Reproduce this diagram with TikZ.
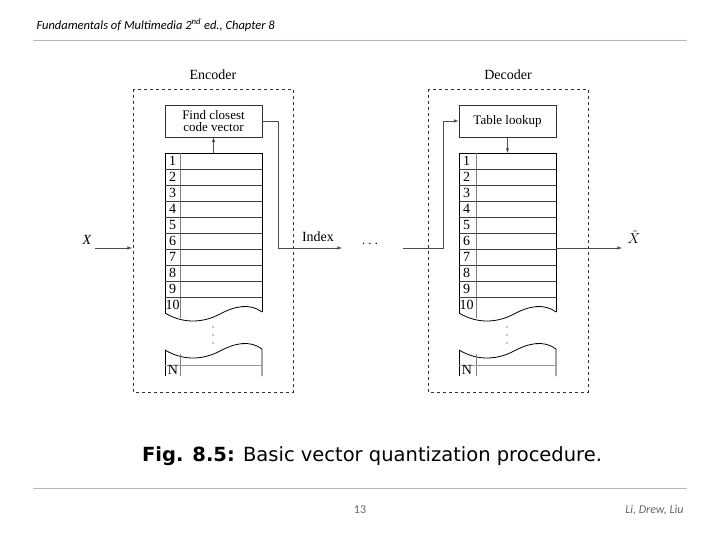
\documentclass[tikz,border=0pt]{standalone}
\usepackage{fontspec}
\setmainfont{Liberation Serif}
\newfontfamily\carlf{Carlito}
\newfontfamily\capf{DejaVu Sans}
\begin{document}
\begin{tikzpicture}[x=1pt,y=-1pt,
  dbox/.style={draw=black!80,dashed,line width=0.7pt},
  pbox/.style={draw=black!80,line width=0.8pt,inner sep=0pt,align=center,font=\fontsize{13}{11.5}\selectfont},
  conn/.style={draw=black!70,line width=0.6pt},
  arr/.style={conn,-latex},
  lab/.style={font=\fontsize{14}{14}\selectfont},
  dot/.style={circle,fill=black,inner sep=0pt,minimum size=1.3pt}]
\useasboundingbox (0,0) rectangle (720,540);
\node[anchor=west,font=\carlf\itshape\fontsize{12.5}{12}\selectfont] (hdr) at (33,25) {Fundamentals of Multimedia 2\textsuperscript{nd} ed., Chapter 8};
\draw[draw=black!40!blue!30,line width=0.8pt] (33,40) -- (687,40);
\draw[draw=black!40!blue!30,line width=0.8pt] (33,488) -- (687,488);
\node[font=\carlf\fontsize{12}{12}\selectfont,text=black!60] (pg) at (360,510) {13};
\node[anchor=east,font=\carlf\itshape\fontsize{12}{12}\selectfont,text=black!60] (au) at (687,510) {Li, Drew, Liu};
\node[font=\capf\fontsize{19.5}{19.5}\selectfont] (cap) at (372,456) {\textbf{Fig. 8.5:} Basic vector quantization procedure.};
% boxes
\draw[dbox] (133,89) rectangle (293,392);
\draw[dbox] (428,89) rectangle (588,392);
\node[lab] (enc) at (213,75) {Encoder};
\node[lab] (dec) at (508,75) {Decoder};
\node[pbox,minimum width=97pt,minimum height=32pt] (find) at (213.5,121) {Find closest\\code vector};
\node[pbox,minimum width=97pt,minimum height=32pt] (look) at (507.5,121) {Table lookup};
% tables
\foreach \L/\S/\nm in {165/180/ta,459/476/tb}{
  \pgfmathsetmacro\R{\L+97}
  \coordinate (\nm) at (\L+48.5,153);
  \draw[line width=0.8pt] (\L,313) -- (\L,153) -- (\R,153) -- (\R,312);
  \draw[line width=0.8pt] (\L,313) .. controls (\L+20,325) and (\L+40,322) .. (\L+55,314) .. controls (\L+70,306) and (\L+85,303) .. (\R,312);
  \draw[line width=0.8pt] (\L,350) .. controls (\L+20,362) and (\L+40,359) .. (\L+55,351) .. controls (\L+70,343) and (\L+85,340) .. (\R,349) -- (\R,376);
  \draw[line width=0.8pt] (\L,350) -- (\L,376);
  \draw[black!50,line width=0.6pt] (\S,153) -- (\S,318);
  \draw[black!50,line width=0.6pt] (\S,354) -- (\S,376);
  \foreach \i in {1,...,9}{ \draw[black!75,line width=0.7pt] (\L,153+16*\i) -- (\R,153+16*\i); }
  \foreach \i in {1,...,10}{ \node[lab,anchor=center] at (\L+7.5,161+16*\i-16) {\i}; }
  \draw[black!40,line width=0.6pt] (\L,365) -- (\R,365);
  \node[lab] at (\L+8,370) {N};
  \foreach \y in {327,335,343}{ \node[dot] at (\L+48,\y) {}; }
}
% connectors
\coordinate (xin) at (95,248);
\node[lab,font=\itshape\fontsize{14}{14}\selectfont] (X) at (87,240) {X};
\draw[arr] (xin) -- (132,248);
\draw[arr] (ta) -- (find.south);
\coordinate (idx) at (342,248);
\draw[arr] (find.east) -- (278,121) |- (idx);
\node[lab] (index) at (318,237) {Index};
\node[lab] (dots) at (370,244) {$\cdots$};
\coordinate (din) at (403,248);
\draw[arr] (din) -- (443,248) |- (look.west);
\draw[arr] (look.south) -- (tb);
\coordinate (xo) at (622,248);
\draw[arr] (556,248) -- (xo);
\node[lab] (Xh) at (634,237) {$\hat{X}$};
\end{tikzpicture}
\end{document}
